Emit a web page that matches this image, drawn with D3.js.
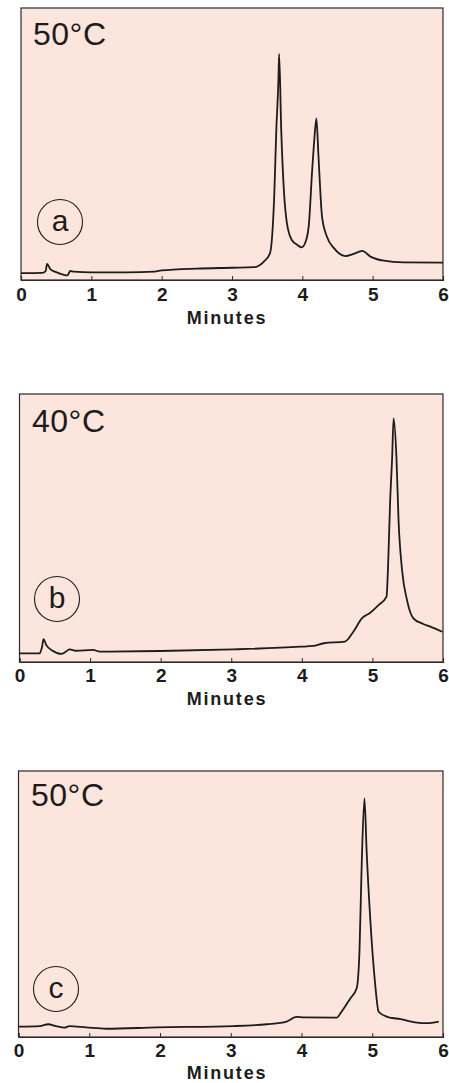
<!DOCTYPE html>
<html>
<head>
<meta charset="utf-8">
<script src="https://cdn.jsdelivr.net/npm/d3@7"></script>
<style>
  html, body { margin: 0; padding: 0; background: #ffffff; }
  svg { display: block; }
</style>
</head>
<body>
<script>
// ---------------- DATA ----------------
const tickValues = [0, 1, 2, 3, 4, 5, 6];
const xLabel = "Minutes";

const titles = ["50°C", "40°C", "50°C"];
const panelLetters = ["a", "b", "c"];

// Panel a (50°C)
const timeA = [0.00, 0.30, 0.35, 0.37, 0.42, 0.50, 0.60, 0.66, 0.70, 0.75, 1.00, 1.50, 1.90, 2.00, 2.50, 3.00, 3.31, 3.45, 3.54, 3.57, 3.60, 3.63, 3.66, 3.67, 3.70, 3.74, 3.78, 3.85, 3.93, 3.99, 4.04, 4.09, 4.14, 4.17, 4.20, 4.23, 4.28, 4.35, 4.45, 4.61, 4.73, 4.85, 4.97, 5.16, 5.44, 6.00];
const signalA = [2.5, 2.6, 3.3, 5.9, 3.9, 2.9, 2.0, 1.7, 3.3, 3.1, 2.8, 2.8, 3.1, 3.5, 4.2, 4.5, 4.7, 6.7, 9.8, 15.9, 30.6, 55.1, 73.5, 83.1, 55.1, 32.0, 21.0, 14.7, 12.9, 12.0, 13.6, 19.6, 40.4, 51.5, 59.4, 45.3, 23.3, 15.9, 11.7, 8.8, 9.6, 10.7, 8.6, 7.1, 6.5, 6.4];

// Panel b (40°C)
const timeB = [0.00, 0.28, 0.32, 0.34, 0.38, 0.47, 0.59, 0.66, 0.71, 0.80, 1.04, 1.14, 1.99, 3.03, 3.98, 4.16, 4.31, 4.61, 4.73, 4.85, 4.97, 5.09, 5.20, 5.22, 5.25, 5.28, 5.30, 5.34, 5.37, 5.42, 5.49, 5.58, 5.72, 5.82, 5.99];
const signalB = [3.2, 3.2, 5.7, 8.5, 6.3, 4.2, 3.0, 3.9, 4.7, 4.2, 4.5, 3.9, 4.1, 4.7, 5.7, 6.0, 7.0, 7.6, 11.3, 16.3, 18.4, 21.3, 24.4, 34.3, 59.2, 76.6, 90.9, 76.6, 53.0, 34.3, 23.1, 16.3, 14.2, 13.2, 11.3];

// Panel c (50°C)
const timeC = [0.00, 0.30, 0.42, 0.53, 0.65, 0.72, 0.96, 1.24, 1.95, 3.04, 3.51, 3.79, 3.93, 4.03, 4.50, 4.55, 4.69, 4.78, 4.82, 4.85, 4.89, 4.92, 4.97, 5.04, 5.09, 5.21, 5.40, 5.63, 5.77, 5.94];
const signalC = [3.9, 4.1, 4.8, 4.1, 3.5, 4.1, 3.6, 3.1, 3.6, 4.1, 4.8, 5.8, 7.6, 7.4, 7.3, 8.9, 14.5, 18.3, 32.7, 64.0, 89.7, 70.3, 45.2, 20.2, 9.5, 7.6, 6.7, 5.4, 5.2, 5.8];

// ---------------- LAYOUT ----------------
const W = 449, H = 1083;
const panels = [
  { time: timeA, signal: signalA, title: titles[0], letter: panelLetters[0],
    left: 21, right: 443, top: 8, bottom: 280, cx: 60, cy: 222, tx: 33, ty: 45, pad: 8, lab: 44 },
  { time: timeB, signal: signalB, title: titles[1], letter: panelLetters[1],
    left: 19.5, right: 443, top: 394, bottom: 662, cx: 57, cy: 599, tx: 32, ty: 432, pad: 7, lab: 43 },
  { time: timeC, signal: signalC, title: titles[2], letter: panelLetters[2],
    left: 18.5, right: 443, top: 771, bottom: 1037, cx: 56, cy: 989, tx: 31, ty: 806, pad: 7, lab: 42 }
];

const ink = "#1c1c1c";
const bg = "#fce5dc";
const font = "'Liberation Sans', Arial, Helvetica, sans-serif";

const svg = d3.select("body").append("svg")
  .attr("width", W).attr("height", H)
  .attr("viewBox", `0 0 ${W} ${H}`);

panels.forEach(p => {
  const x = d3.scaleLinear().domain([0, 6]).range([p.left, p.right]);
  const y = d3.scaleLinear().domain([0, 100]).range([p.bottom, p.top]);

  const g = svg.append("g");

  // plot background + frame
  g.append("rect")
    .attr("x", p.left).attr("y", p.top)
    .attr("width", p.right - p.left).attr("height", p.bottom - p.top)
    .attr("fill", bg)
    .attr("stroke", "#2a2a2a")
    .attr("stroke-width", 1.2);

  // x axis
  const axis = d3.axisBottom(x)
    .tickValues(tickValues)
    .tickFormat(d3.format("d"))
    .tickSize(-4)
    .tickPadding(p.pad);
  const ag = g.append("g")
    .attr("transform", `translate(0,${p.bottom})`)
    .call(axis);
  ag.select(".domain").attr("stroke", "#2a2a2a").attr("stroke-width", 1.2);
  ag.selectAll(".tick line").attr("stroke", "#2a2a2a").attr("stroke-width", 1);
  ag.selectAll(".tick text")
    .attr("fill", ink)
    .style("font-family", font)
    .style("font-size", "19px")
    .style("font-weight", "bold");

  // x label
  g.append("text")
    .attr("x", 227)
    .attr("y", p.bottom + p.lab)
    .attr("text-anchor", "middle")
    .attr("fill", ink)
    .style("font-family", font)
    .style("font-size", "18px")
    .style("font-weight", "bold")
    .style("letter-spacing", "1.8px")
    .text(xLabel);

  // trace
  const line = d3.line()
    .curve(d3.curveMonotoneX)
    .x((d, i) => x(p.time[i]))
    .y((d, i) => y(p.signal[i]));
  g.append("path")
    .datum(p.signal)
    .attr("d", line)
    .attr("fill", "none")
    .attr("stroke", ink)
    .attr("stroke-width", 1.8)
    .attr("stroke-linejoin", "round");

  // title
  g.append("text")
    .attr("x", p.tx).attr("y", p.ty)
    .attr("fill", ink)
    .style("font-family", font)
    .style("font-size", "32px")
    .style("letter-spacing", "0.5px")
    .text(p.title);

  // circled letter
  g.append("circle")
    .attr("cx", p.cx).attr("cy", p.cy).attr("r", 22.5)
    .attr("fill", "none")
    .attr("stroke", ink)
    .attr("stroke-width", 1.1);
  g.append("text")
    .attr("x", p.cx).attr("y", p.cy + 9)
    .attr("text-anchor", "middle")
    .attr("fill", ink)
    .style("font-family", font)
    .style("font-size", "30px")
    .text(p.letter);
});
</script>
</body>
</html>
